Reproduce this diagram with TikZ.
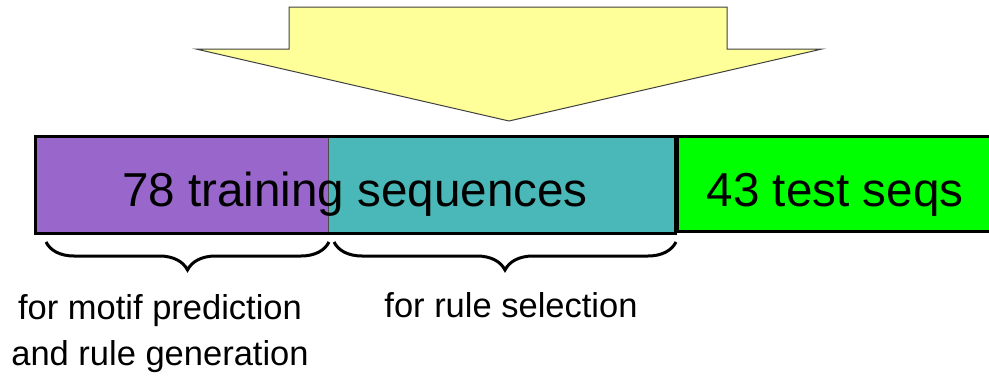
\documentclass[tikz,border=0pt]{standalone}
\usepackage{fontspec}
\setmainfont{Liberation Sans}
\usetikzlibrary{decorations.pathreplacing}
\definecolor{arrowyellow}{HTML}{FFFF99}
\definecolor{trainpurple}{HTML}{9966CC}
\definecolor{trainteal}{HTML}{4AB8B8}
\definecolor{testgreen}{HTML}{00FF00}
\tikzset{
  seqbox/.style={inner sep=0pt, outer sep=0pt, anchor=north west},
  bigtext/.style={font=\fontsize{47.6}{57}\selectfont, anchor=base, inner sep=0pt},
  smalltext/.style={font=\fontsize{34.5}{46}\selectfont, anchor=base, inner sep=0pt},
  bracebar/.style={decorate, decoration={brace, amplitude=28pt}, line width=3pt, black}
}
\begin{document}
\begin{tikzpicture}[x=1pt, y=-1pt]
\useasboundingbox (0,0) rectangle (989,378);
\begin{scope}
\clip (0,0) rectangle (989,378);
% big arrow
\filldraw[fill=arrowyellow, draw=black!75, line width=1pt]
  (289,7) -- (727,7) -- (727,49) -- (822,49) -- (509,121) -- (196,49) -- (289,49) -- cycle;
% boxes
\node[seqbox, fill=testgreen, draw=black, line width=3pt, minimum width=330pt, minimum height=95pt] (test) at (677,136) {};
\node[seqbox, fill=trainpurple, minimum width=293pt, minimum height=97pt] (motif) at (35,136) {};
\node[seqbox, fill=trainteal, minimum width=347pt, minimum height=97pt] (rule) at (328,136) {};
\draw[black!70, line width=1pt] (motif.north east) -- (motif.south east);
\draw[black, line width=3pt] (motif.north west) rectangle (rule.south east);
\end{scope}
% texts
\node[bigtext] (traintxt) at (355,206) {78 training sequences};
\node[bigtext] (testtxt) at (835,206) {43 test seqs};
% braces
\draw[bracebar] (329,242) -- (46,242) coordinate (b1);
\draw[bracebar] (676,242) -- (334,242) coordinate (b2);
% labels
\node[smalltext] (lab1) at (160,319) {for motif prediction};
\node[smalltext] (lab2) at (160,365) {and rule generation};
\node[smalltext] (lab3) at (511,317) {for rule selection};
\end{tikzpicture}
\end{document}
